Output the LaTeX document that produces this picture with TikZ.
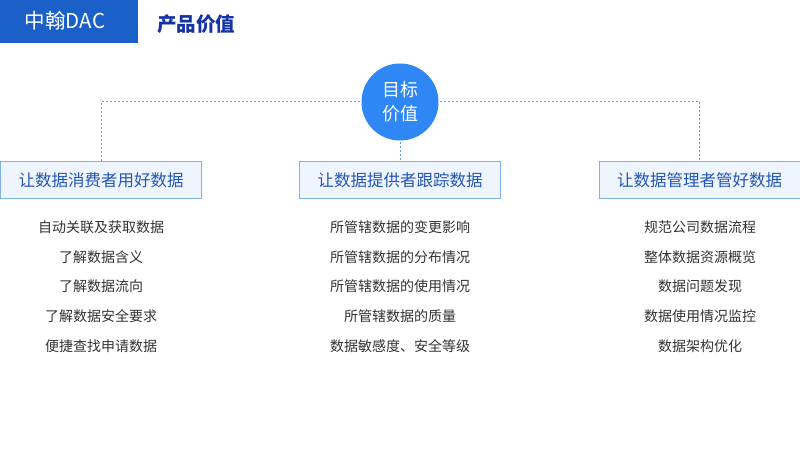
\documentclass[tikz,border=0pt]{standalone}
\usepackage{fontspec}
\setmainfont{Noto Sans CJK SC}
\usetikzlibrary{positioning}

\definecolor{brandblue}{HTML}{1B5FC8}
\definecolor{titleblue}{HTML}{1632A6}
\definecolor{goalblue}{HTML}{2F86F5}
\definecolor{linkblue}{HTML}{5E9DE2}
\definecolor{boxfill}{HTML}{EEF5FE}
\definecolor{boxline}{HTML}{7DB3EA}
\definecolor{boxtext}{HTML}{2556B5}
\definecolor{itemtext}{HTML}{333333}

\begin{document}
\begin{tikzpicture}[
  x=1pt,
  y=-1pt,
  every node/.style={inner sep=0pt},
  role/.style={
    draw=boxline,
    fill=boxfill,
    line width=1pt,
    minimum width=201pt,
    minimum height=37pt,
    text=boxtext,
    font=\fontsize{16.5}{19}\selectfont
  },
  item/.style={text=itemtext, font=\fontsize{14}{16}\selectfont},
  link/.style={draw=linkblue, line width=1pt, dash pattern=on 2pt off 2pt}
]
\useasboundingbox (0,0) rectangle (800,473);
\fill[white] (0,0) rectangle (800,473);

% header
\fill[brandblue] (0,0) rectangle (138,43);
\node[text=white, font=\fontsize{20.5}{24}\selectfont] (brand) at (65,21) {中翰DAC};
\node[text=titleblue, font=\bfseries\fontsize{19.5}{22}\selectfont, anchor=west] (title) at (157,24) {产品价值};

% goal and roles
\node[role] (cons) at (101,180.5) {让数据消费者用好数据};
\node[role] (prov) at (400,180.5) {让数据提供者跟踪数据};
\node[role] (mgr) at (699.5,180.5) {让数据管理者管好数据};

\draw[link] (400,102) -| (cons.north);
\draw[link] (400,102) -| (mgr.north);
\draw[link] (400,102) -- (prov.north);

\node[circle, fill=goalblue, minimum size=77pt, text=white, align=center,
  font=\fontsize{18}{24}\selectfont] (goal) at (400,102) {目标\\价值};

% items
\foreach \t [count=\i] in {自动关联及获取数据,了解数据含义,了解数据流向,了解数据安全要求,便捷查找申请数据}
  \node[item] (c\i) at (101,197.5+\i*29.7) {\t};
\foreach \t [count=\i] in {所管辖数据的变更影响,所管辖数据的分布情况,所管辖数据的使用情况,所管辖数据的质量,数据敏感度、安全等级}
  \node[item] (p\i) at (400,197.5+\i*29.7) {\t};
\foreach \t [count=\i] in {规范公司数据流程,整体数据资源概览,数据问题发现,数据使用情况监控,数据架构优化}
  \node[item] (m\i) at (700,197.5+\i*29.7) {\t};
\end{tikzpicture}
\end{document}
